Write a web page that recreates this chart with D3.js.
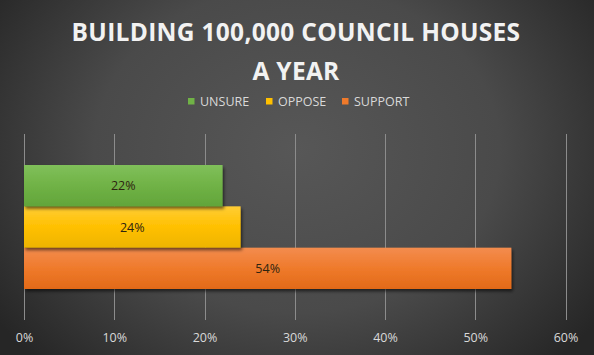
<!DOCTYPE html>
<html><head><meta charset="utf-8">
<script src="https://cdn.jsdelivr.net/npm/d3@7"></script>
<style>
html,body{margin:0;padding:0;background:#3a3a3a;}
svg{display:block;}
</style></head>
<body>
<svg id="chart" width="594" height="355"></svg>
<script>
const titleLines = ["BUILDING 100,000 COUNCIL HOUSES", "A YEAR"];
const series = ["UNSURE", "OPPOSE", "SUPPORT"];
const values = [22, 24, 54];
const tickValues = [0, 10, 20, 30, 40, 50, 60];
const colorsTop = ["#80c05a", "#ffcd35", "#f38c4f"];
const colorsMid = ["#70b246", "#ffc000", "#ef7a2b"];
const colorsBot = ["#62a53a", "#eeb400", "#e26a18"];

const W = 594, H = 355;
const svg = d3.select("#chart");
const defs = svg.append("defs");

const bg = defs.append("radialGradient").attr("id","bg")
  .attr("cx","50%").attr("cy","42%").attr("r","62%")
  .attr("gradientUnits","objectBoundingBox")
  .attr("gradientTransform","translate(0.5,0.42) scale(1,1.35) translate(-0.5,-0.42)");
bg.append("stop").attr("offset","0%").attr("stop-color","#575757");
bg.append("stop").attr("offset","55%").attr("stop-color","#4a4a4a");
bg.append("stop").attr("offset","100%").attr("stop-color","#262626");

series.forEach((s,i)=>{
  const g = defs.append("linearGradient").attr("id","g"+i).attr("x1",0).attr("y1",0).attr("x2",0).attr("y2",1);
  g.append("stop").attr("offset","0%").attr("stop-color",colorsTop[i]);
  g.append("stop").attr("offset","50%").attr("stop-color",colorsMid[i]);
  g.append("stop").attr("offset","100%").attr("stop-color",colorsBot[i]);
});
const f = defs.append("filter").attr("id","sh").attr("x","-5%").attr("y","-20%").attr("width","115%").attr("height","150%");
f.append("feDropShadow").attr("dx",1.5).attr("dy",2.5).attr("stdDeviation",1.6)
  .attr("flood-color","#000").attr("flood-opacity",0.55);

svg.append("rect").attr("width",W).attr("height",H).attr("fill","url(#bg)");

const font = "'Open Sans', 'DejaVu Sans', sans-serif";

// Title
svg.append("g").selectAll("text").data(titleLines).join("text")
  .attr("x", 296).attr("y",(d,i)=>41 + i*38.5)
  .attr("text-anchor","middle")
  .attr("font-family",font).attr("font-weight",700)
  .attr("font-size",24.5).attr("letter-spacing",0.3)
  .attr("fill","#f2f2f2").text(d=>d);

// Scales
const x = d3.scaleLinear().domain([0,60]).range([24,565.5]);
const plotTop = 134, plotBot = 320;
const y = d3.scaleBand().domain(series).range([165,289]).paddingInner(0);

// Gridlines
svg.append("g").selectAll("line").data(tickValues).join("line")
  .attr("x1",d=>Math.round(x(d))+0.5).attr("x2",d=>Math.round(x(d))+0.5)
  .attr("y1",plotTop).attr("y2",plotBot)
  .attr("stroke","#8c8c8c").attr("stroke-width",1);

// Bars (draw bottom first so shadows overlap correctly)
const bars = series.map((s,i)=>({s, v: values[i], i})).reverse();
svg.append("g").selectAll("rect").data(bars).join("rect")
  .attr("x",x(0)).attr("y",d=>y(d.s))
  .attr("width",d=>x(d.v)-x(0)).attr("height",y.bandwidth())
  .attr("fill",d=>"url(#g"+d.i+")")
  .attr("filter","url(#sh)");

// Data labels
svg.append("g").selectAll("text").data(bars).join("text")
  .attr("x",d=>(x(0)+x(d.v))/2).attr("y",d=>y(d.s)+y.bandwidth()/2+4.5)
  .attr("text-anchor","middle")
  .attr("font-family",font).attr("font-size",12.5)
  .attr("fill","#2e2410").text(d=>d.v+"%");

// Axis
const axis = d3.axisBottom(x).tickValues(tickValues).tickFormat(d=>d+"%").tickSize(0).tickPadding(0);
const ax = svg.append("g").attr("transform","translate(0,337)").call(axis);
ax.select(".domain").remove();
ax.selectAll("text").attr("font-family",font).attr("font-size",12.5).attr("fill","#d9d9d9").attr("dy","0.42em");

// Legend
const legX = [188, 266, 342];
const leg = svg.append("g").selectAll("g").data(series).join("g")
  .attr("transform",(d,i)=>`translate(${legX[i]},98)`);
leg.append("rect").attr("width",6.5).attr("height",6.5).attr("fill",(d,i)=>colorsMid[i]);
leg.append("text").attr("x",12).attr("y",7.5)
  .attr("font-family",font).attr("font-size",12.5).attr("fill","#d9d9d9").text(d=>d);
</script>
</body></html>
